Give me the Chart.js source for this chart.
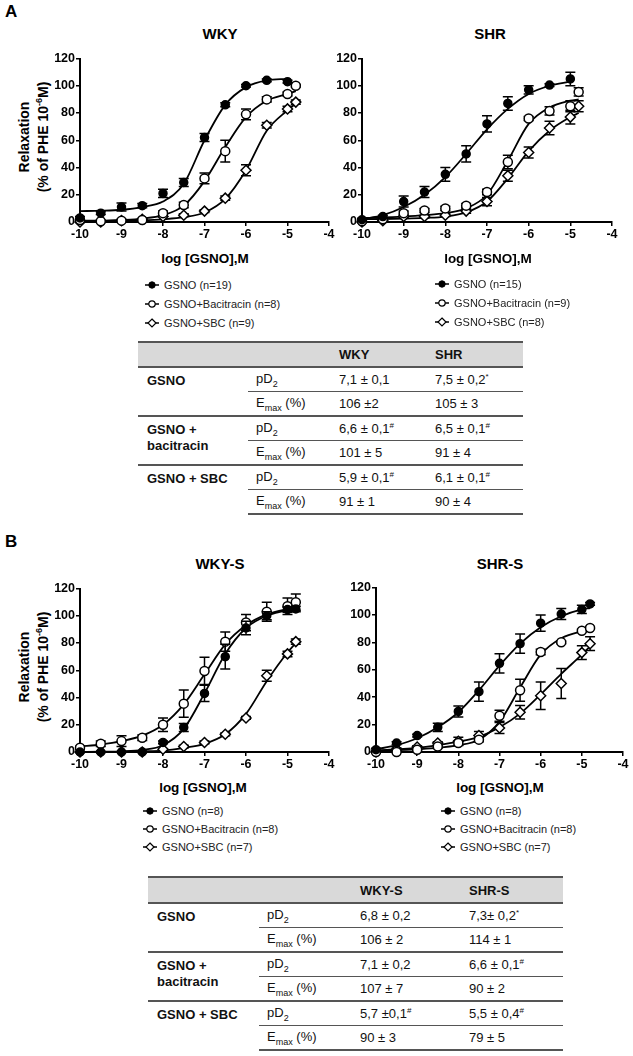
<!DOCTYPE html>
<html>
<head>
<meta charset="utf-8">
<script src="https://cdn.jsdelivr.net/npm/chart.js@4.4.1/dist/chart.umd.min.js"></script>
<style>
  body { margin: 0; background: #fff; }
  #fig { position: relative; width: 633px; height: 1056px; font-family: Arial, "Liberation Sans", sans-serif; color: #000; }
  .abs { position: absolute; }
  .ctr { position: absolute; transform: translate(-50%, -50%); white-space: nowrap; }
  .panel { font-size: 17px; font-weight: bold; }
  .title { font-size: 15px; font-weight: bold; }
  .xtitle { font-size: 13.5px; font-weight: bold; }
  .ytitle { font-size: 14px; font-weight: bold; line-height: 15px; text-align: center; transform: translate(-50%, -50%) rotate(-90deg); }
  .ytitle sup { font-size: 9px; }
  .legend { font-size: 11px; color: #222; }
  .legend div { display: flex; align-items: center; white-space: nowrap; }
  .legend svg { margin-right: 4px; }
  table.tbl { position: absolute; border-collapse: collapse; table-layout: fixed; font-size: 13px; color: #111; }
  .tbl td { padding: 0 0 0 8px; height: 23px; vertical-align: middle; white-space: nowrap; }
  .tbl td.grp { vertical-align: top; font-weight: bold; line-height: 16px; padding-top: 5px; padding-left: 9px; }
  .tbl tr.hd td { background: #d9d9d9; font-weight: bold; border-top: 2px solid #555; border-bottom: 2px solid #555; }
  .tbl tr.first td { border-top: 2px solid #555; }
  .tbl tr.second td { border-top: 1.5px solid #555; }
  .tbl tr.last td { border-bottom: 2px solid #555; }
  .tbl sub { font-size: 9px; }
  .tbl sup { font-size: 8px; }
</style>
</head>
<body>
<div id="fig">
  <div class="abs panel" style="left:5px;top:2px">A</div>
  <div class="ctr title" style="left:220px;top:33px">WKY</div>
  <div class="ctr title" style="left:490px;top:33px">SHR</div>
  <div class="ctr ytitle" style="left:34px;top:137px">Relaxation<br>(% of PHE 10<sup>-6</sup>M)</div>
  <div class="abs" id="wA1"></div>
  <div class="abs" id="wA2"></div>
  <div class="ctr xtitle" style="left:205px;top:258px">log [GSNO],M</div>
  <div class="ctr xtitle" style="left:488px;top:258px">log [GSNO],M</div>
  <div class="abs legend" id="legA1"></div>
  <div class="abs legend" id="legA2"></div>

  <table class="tbl" style="left:138px;top:341px;width:385px">
    <colgroup><col style="width:110px"><col style="width:83px"><col style="width:96px"><col style="width:96px"></colgroup>
    <tr class="hd"><td></td><td></td><td>WKY</td><td>SHR</td></tr>
    <tr class="first"><td class="grp" rowspan="2">GSNO</td><td>pD<sub>2</sub></td><td>7,1 ± 0,1</td><td>7,5 ± 0,2<sup>*</sup></td></tr>
    <tr class="second"><td>E<sub>max</sub> (%)</td><td>106 ±2</td><td>105 ± 3</td></tr>
    <tr class="first"><td class="grp" rowspan="2">GSNO +<br>bacitracin</td><td>pD<sub>2</sub></td><td>6,6 ± 0,1<sup>#</sup></td><td>6,5 ± 0,1<sup>#</sup></td></tr>
    <tr class="second"><td>E<sub>max</sub> (%)</td><td>101 ± 5</td><td>91 ± 4</td></tr>
    <tr class="first"><td class="grp" rowspan="2">GSNO + SBC</td><td>pD<sub>2</sub></td><td>5,9 ± 0,1<sup>#</sup></td><td>6,1 ± 0,1<sup>#</sup></td></tr>
    <tr class="second last"><td>E<sub>max</sub> (%)</td><td>91 ± 1</td><td>90 ± 4</td></tr>
  </table>

  <div class="abs panel" style="left:5px;top:532px">B</div>
  <div class="ctr title" style="left:220px;top:563px">WKY-S</div>
  <div class="ctr title" style="left:500px;top:563px">SHR-S</div>
  <div class="ctr ytitle" style="left:34px;top:667px">Relaxation<br>(% of PHE 10<sup>-6</sup>M)</div>
  <div class="abs" id="wB1"></div>
  <div class="abs" id="wB2"></div>
  <div class="ctr xtitle" style="left:203px;top:787px">log [GSNO],M</div>
  <div class="ctr xtitle" style="left:500px;top:787px">log [GSNO],M</div>
  <div class="abs legend" id="legB1"></div>
  <div class="abs legend" id="legB2"></div>

  <table class="tbl" style="left:148px;top:876px;width:415px">
    <colgroup><col style="width:111px"><col style="width:93px"><col style="width:109px"><col style="width:102px"></colgroup>
    <tr class="hd"><td style="height:24px"></td><td></td><td>WKY-S</td><td>SHR-S</td></tr>
    <tr class="first"><td class="grp" rowspan="2">GSNO</td><td>pD<sub>2</sub></td><td>6,8 ± 0,2</td><td>7,3± 0,2<sup>*</sup></td></tr>
    <tr class="second"><td>E<sub>max</sub> (%)</td><td>106 ± 2</td><td>114 ± 1</td></tr>
    <tr class="first"><td class="grp" rowspan="2">GSNO +<br>bacitracin</td><td>pD<sub>2</sub></td><td>7,1 ± 0,2</td><td>6,6 ± 0,1<sup>#</sup></td></tr>
    <tr class="second"><td>E<sub>max</sub> (%)</td><td>107 ± 7</td><td>90 ± 2</td></tr>
    <tr class="first"><td class="grp" rowspan="2">GSNO + SBC</td><td>pD<sub>2</sub></td><td>5,7 ±0,1<sup>#</sup></td><td>5,5 ± 0,4<sup>#</sup></td></tr>
    <tr class="second last"><td>E<sub>max</sub> (%)</td><td>90 ± 3</td><td>79 ± 5</td></tr>
  </table>
</div>

<script>
// log [GSNO] doses, same for every curve
const doses = [-10, -9.5, -9, -8.5, -8, -7.5, -7, -6.5, -6, -5.5, -5, -4.8];
const xTicks = [-10, -9, -8, -7, -6, -5, -4];
const yTicks = [0, 20, 40, 60, 80, 100, 120];

const legendA1 = ['GSNO (n=19)', 'GSNO+Bacitracin (n=8)', 'GSNO+SBC (n=9)'];
const legendA2 = ['GSNO (n=15)', 'GSNO+Bacitracin (n=9)', 'GSNO+SBC (n=8)'];
const legendB1 = ['GSNO (n=8)', 'GSNO+Bacitracin (n=8)', 'GSNO+SBC (n=7)'];
const legendB2 = ['GSNO (n=8)', 'GSNO+Bacitracin (n=8)', 'GSNO+SBC (n=7)'];

// A - WKY
const wkyGsno = [3, 6.5, 11, 12, 21, 29, 62, 86, 100, 104, 103, null];
const wkyGsnoErr = [1, 1, 3, 1.5, 3, 3, 3, 1.5, 1, 1, 1, null];
const wkyGsnoFit = [8, 8.3, 9, 11, 15, 28, 60, 86, 99, 104, 105, null];
const wkyBac = [1.5, 0.5, 1, 1.5, 6.5, 12.5, 32, 52, 79, 90, 94, 100];
const wkyBacErr = [1, 1, 1, 1, 1.5, 2, 4, 8, 4, 2, 1.5, 1];
const wkyBacFit = [1, 1, 1.5, 2.5, 5, 12, 30, 55, 77, 89, 94, 96];
const wkySbc = [0, 0, 1, 2, 4, 5, 8, 17.5, 38, 71, 83, 88];
const wkySbcErr = [0, 0, 0, 0, 0, 1, 1, 1.5, 4, 2, 2, 1.5];
const wkySbcFit = [0.5, 0.6, 0.8, 1.2, 2, 3.5, 7, 17, 38, 67, 82, 87];

// A - SHR
const shrGsno = [1.7, 4, 15, 22, 35, 50, 72, 87, 97, 100.5, 105, null];
const shrGsnoErr = [1, 1, 4, 4, 5, 6, 6, 5, 3, 1, 5, null];
const shrGsnoFit = [2, 5, 11, 20, 33, 50, 68, 83, 94, 100, 103, null];
const shrBac = [0.5, 2, 6.5, 8.5, 10, 12, 22, 44, 76, 81.5, 85, 95.5];
const shrBacErr = [1, 1, 1.5, 1.5, 1.5, 1.5, 2, 5, 1.5, 3, 4, 3];
const shrBacFit = [3, 3.3, 4, 5, 6.5, 10, 20, 45, 72, 84, 89, 90];
const shrSbc = [0, 1, 4, 4, 5, 8, 15, 34, 51, 69, 77, 85];
const shrSbcErr = [0, 0, 1, 1, 1, 1.5, 3, 4, 4, 5, 5, 4];
const shrSbcFit = [2, 2.2, 2.5, 3, 4, 7, 15, 32, 52, 67, 77, 80];

// B - WKY-S
const wkysGsno = [0, 0, 0, 0, 7, 18, 43, 70, 91, 100, 104.5, 105];
const wkysGsnoErr = [0, 0, 0, 0, 1, 3, 6, 9, 5, 3, 2, 2];
const wkysGsnoFit = [0, 0.2, 0.5, 1.5, 5, 17, 43, 72, 91, 100, 104, 104.5];
const wkysBac = [3.2, 6, 8, 10.5, 20, 35.5, 59.5, 81, 95, 103, 107, 110];
const wkysBacErr = [1, 2, 4, 2, 5, 10, 10, 7, 6, 7, 6, 6];
const wkysBacFit = [4, 5.5, 8, 12, 20, 35, 57, 79, 93, 101, 105, 106];
const wkysSbc = [0, 0, 0, 0, 2, 4, 7, 13, 25, 56, 72, 81];
const wkysSbcErr = [0, 0, 0, 0, 0, 1, 1, 1, 1, 4, 2, 2];
const wkysSbcFit = [0, 0, 0.2, 0.5, 1, 3, 6, 13, 28, 52, 73, 80];

// B - SHR-S
const shrsGsno = [1.7, 6.5, 12, 18, 29.6, 44, 64.7, 79, 94, 100.6, 104, 108];
const shrsGsnoErr = [1, 1, 1, 3, 4, 7, 7, 7, 6, 4, 3, 1];
const shrsGsnoFit = [2, 5, 10, 18, 29, 45, 63, 79, 91, 99, 104, 105];
const shrsBac = [0, 0, 1.7, 4, 6.5, 9, 26.4, 45, 73, 80, 88.5, 90.5];
const shrsBacErr = [0, 0, 0.5, 1, 1.5, 1.5, 4, 8, 2, 1, 1, 1];
const shrsBacFit = [1, 1.3, 2, 3, 5, 9, 22, 47, 71, 83, 88, 89];
const shrsSbc = [0, 2, 3.6, 6.5, 7.8, 12, 17.5, 29, 41, 50, 72.5, 79];
const shrsSbcErr = [0, 1, 1, 1, 3, 3, 4, 5, 10, 11, 5, 5];
const shrsSbcFit = [1, 2, 3, 5, 7.5, 11, 18, 28, 42, 57, 71, 77];

Chart.defaults.font.family = 'Arial, "Liberation Sans", sans-serif';
Chart.defaults.color = '#000';

// marker looks for GSNO, +Bacitracin, +SBC
const markers = [
    { style: 'circle', r: 4, fill: '#000' },
    { style: 'circle', r: 4.5, fill: '#fff' },
    { style: 'rectRot', r: 5, fill: '#fff' }
];

function toPoints(vals) {
    return doses.map((x, i) => ({ x: x, y: vals[i] }));
}

// draws the SEM bars just before each point set, so markers sit on top
const errorBars = {
    id: 'errorBars',
    beforeDatasetDraw(chart, args) {
        const ds = chart.data.datasets[args.index];
        if (!ds.errors) return;
        const ctx = chart.ctx;
        const x = chart.scales.x, y = chart.scales.y;
        ctx.save();
        ctx.strokeStyle = '#000';
        ctx.lineWidth = 1.5;
        ds.data.forEach((p, i) => {
            const e = ds.errors[i];
            if (p.y == null || !e) return;
            const px = x.getPixelForValue(p.x);
            const top = y.getPixelForValue(p.y + e);
            const bot = y.getPixelForValue(Math.max(0, p.y - e));
            ctx.beginPath();
            ctx.moveTo(px, top); ctx.lineTo(px, bot);
            ctx.moveTo(px - 5, top); ctx.lineTo(px + 5, top);
            ctx.moveTo(px - 5, bot); ctx.lineTo(px + 5, bot);
            ctx.stroke();
        });
        ctx.restore();
    }
};

const tickFont = { size: 12.5, weight: 'bold' };

function makeChart(wrapId, area, names, series) {
    const wrap = document.getElementById(wrapId);
    const w = area.r - area.l + 44, h = area.b - area.t + 32;
    wrap.style.left = (area.l - 34) + 'px';
    wrap.style.top = (area.t - 8) + 'px';
    const canvas = document.createElement('canvas');
    canvas.width = w;
    canvas.height = h;
    wrap.appendChild(canvas);

    const datasets = [];
    series.forEach((s, k) => {
        datasets.push({
            label: names[k] + ' fit',
            data: toPoints(s.fit),
            showLine: true,
            pointRadius: 0,
            borderColor: '#000',
            borderWidth: 1.8,
            cubicInterpolationMode: 'monotone',
            order: 2,
            clip: false
        });
    });
    series.forEach((s, k) => {
        datasets.push({
            label: names[k],
            data: toPoints(s.vals),
            errors: s.err,
            showLine: false,
            pointStyle: markers[k].style,
            pointRadius: markers[k].r,
            pointBackgroundColor: markers[k].fill,
            pointBorderColor: '#000',
            pointBorderWidth: 1.5,
            order: 1,
            clip: false
        });
    });

    return new Chart(canvas, {
        type: 'scatter',
        data: { datasets: datasets },
        options: {
            responsive: false,
            animation: false,
            layout: { padding: { top: 8, right: 10, left: 0, bottom: 0 } },
            plugins: { legend: { display: false }, tooltip: { enabled: false } },
            scales: {
                x: {
                    type: 'linear',
                    min: xTicks[0],
                    max: xTicks[xTicks.length - 1],
                    afterBuildTicks: s => { s.ticks = xTicks.map(v => ({ value: v })); },
                    ticks: { font: tickFont, padding: 1, maxRotation: 0 },
                    grid: { drawOnChartArea: false, color: '#000', lineWidth: 1.5, tickLength: 4 },
                    border: { color: '#000', width: 2 },
                    afterFit: s => { s.height = 24; }
                },
                y: {
                    min: yTicks[0],
                    max: yTicks[yTicks.length - 1],
                    afterBuildTicks: s => { s.ticks = yTicks.map(v => ({ value: v })); },
                    ticks: { font: tickFont, padding: 1 },
                    grid: { drawOnChartArea: false, color: '#000', lineWidth: 1.5, tickLength: 4 },
                    border: { color: '#000', width: 2 },
                    afterFit: s => { s.width = 34; }
                }
            }
        },
        plugins: [errorBars]
    });
}

function buildLegend(id, names, left, top, rowH) {
    const el = document.getElementById(id);
    el.style.left = left + 'px';
    el.style.top = top + 'px';
    const icons = [
        '<circle cx="8" cy="5" r="3.2" fill="#000" stroke="#000" stroke-width="1"/>',
        '<circle cx="8" cy="5" r="3.2" fill="#fff" stroke="#000" stroke-width="1.2"/>',
        '<polygon points="8,1 12,5 8,9 4,5" fill="#fff" stroke="#000" stroke-width="1.2"/>'
    ];
    names.forEach((n, k) => {
        const row = document.createElement('div');
        row.style.height = rowH + 'px';
        row.innerHTML = '<svg width="16" height="10"><line x1="1" y1="5" x2="15" y2="5" stroke="#000" stroke-width="1.5"/>' +
            icons[k] + '</svg><span>' + n + '</span>';
        el.appendChild(row);
    });
}

window.onload = function() {
    makeChart('wA1', { l: 80, t: 58, r: 329, b: 222 }, legendA1, [
        { vals: wkyGsno, err: wkyGsnoErr, fit: wkyGsnoFit },
        { vals: wkyBac, err: wkyBacErr, fit: wkyBacFit },
        { vals: wkySbc, err: wkySbcErr, fit: wkySbcFit }
    ]);
    makeChart('wA2', { l: 362, t: 58, r: 612, b: 222 }, legendA2, [
        { vals: shrGsno, err: shrGsnoErr, fit: shrGsnoFit },
        { vals: shrBac, err: shrBacErr, fit: shrBacFit },
        { vals: shrSbc, err: shrSbcErr, fit: shrSbcFit }
    ]);
    makeChart('wB1', { l: 80, t: 588, r: 329, b: 752 }, legendB1, [
        { vals: wkysGsno, err: wkysGsnoErr, fit: wkysGsnoFit },
        { vals: wkysBac, err: wkysBacErr, fit: wkysBacFit },
        { vals: wkysSbc, err: wkysSbcErr, fit: wkysSbcFit }
    ]);
    makeChart('wB2', { l: 376, t: 587, r: 623, b: 752 }, legendB2, [
        { vals: shrsGsno, err: shrsGsnoErr, fit: shrsGsnoFit },
        { vals: shrsBac, err: shrsBacErr, fit: shrsBacFit },
        { vals: shrsSbc, err: shrsSbcErr, fit: shrsSbcFit }
    ]);

    buildLegend('legA1', legendA1, 144, 275, 19);
    buildLegend('legA2', legendA2, 434, 274, 19);
    buildLegend('legB1', legendB1, 142, 802, 18);
    buildLegend('legB2', legendB2, 440, 802, 18);
};
</script>
</body>
</html>
